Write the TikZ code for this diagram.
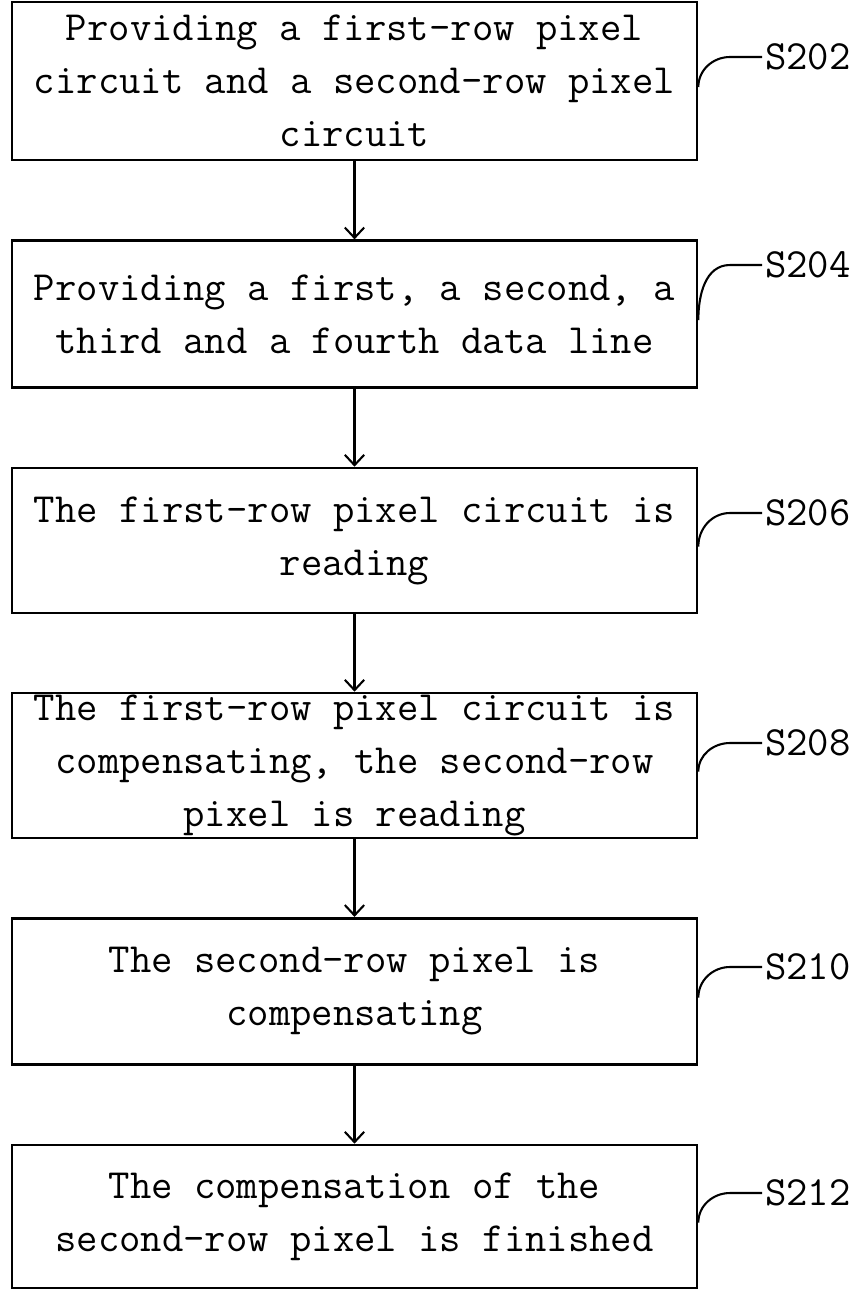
\documentclass[tikz,border=0pt]{standalone}
\usepackage{fontspec}
\newcommand{\steptext}{\fontsize{30}{38.3}\ttfamily}
\usetikzlibrary{arrows.meta,calc}
\begin{document}
\begin{tikzpicture}
	[x=0.0254cm,y=-0.0254cm,
	stepbox/.style={draw,line width=2pt,minimum width=17.4cm,
		minimum height=3.72cm,align=center,inner sep=0pt,font=\steptext},
	flow/.style={-{Straight Barb[length=7.5pt,width=14pt]},line width=1.5pt},
	tag/.style={anchor=west,inner sep=2pt,font=\steptext},
	hook/.style={line width=1.5pt}]
	\useasboundingbox (0,0) rectangle (866,1290);
	\node[stepbox,minimum height=4.01cm] (b202) at (354.5,81) {Providing a first-row pixel\\circuit and a second-row pixel\\circuit};
	\node[stepbox] (b204) at (354.5,314) {Providing a first, a second, a\\third and a fourth data line};
	\node[stepbox,minimum height=3.68cm] (b206) at (354.5,540.5) {The first-row pixel circuit is\\reading};
	\node[stepbox,minimum height=3.68cm] (b208) at (354.5,765.5) {The first-row pixel circuit is\\compensating, the second-row\\pixel is reading};
	\node[stepbox] (b210) at (354.5,991.5) {The second-row pixel is\\compensating};
	\node[stepbox,minimum height=3.63cm] (b212) at (354.5,1216.5) {The compensation of the\\second-row pixel is finished};
	% step numbers
	\node[tag] (t202) at (762,57) {S202};
	\node[tag] (t204) at (762,265) {S204};
	\node[tag] (t206) at (762,513) {S206};
	\node[tag] (t208) at (762,743) {S208};
	\node[tag] (t210) at (762,967) {S210};
	\node[tag] (t212) at (762,1193) {S212};
	\foreach \s in {202,204,206,208,210,212}
		\draw[hook] ($(b\s.east)+(0,6)$) to[out=90,in=180] ($(t\s.west)+(-32,0)$) -- (t\s.west);
	\draw[flow] (b202) -- (b204);
	\draw[flow] (b204) -- (b206);
	\draw[flow] (b206) -- (b208);
	\draw[flow] (b208) -- (b210);
	\draw[flow] (b210) -- (b212);
\end{tikzpicture}
\end{document}
